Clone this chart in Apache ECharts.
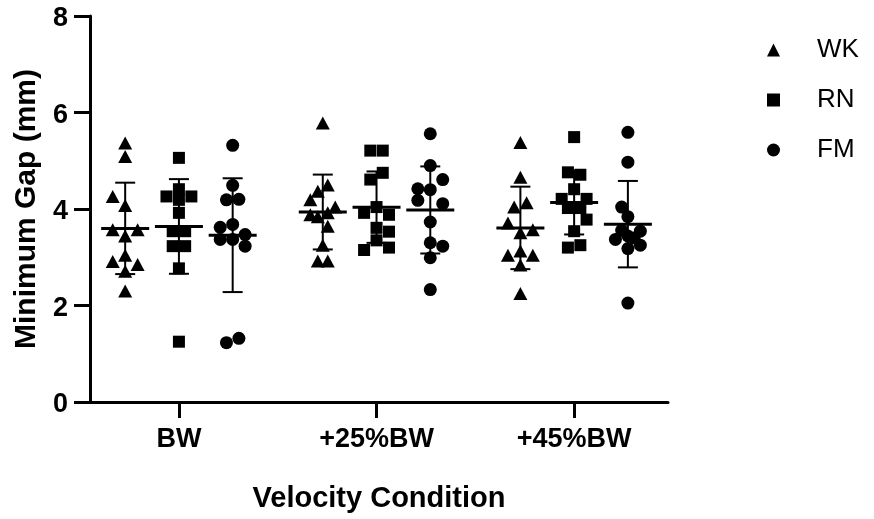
<!DOCTYPE html>
<html>
<head>
<meta charset="utf-8">
<script src="https://cdn.jsdelivr.net/npm/echarts@6/dist/echarts.min.js"></script>
<style>
  html, body { margin: 0; padding: 0; background: #fff; }
  #chart { width: 874px; height: 519px; }
</style>
</head>
<body>
<div id="chart"></div>
<script>
const groups = ['BW', '+25%BW', '+45%BW']
const seriesNames = ['WK', 'RN', 'FM']
const yTicks = [0, 2, 4, 6, 8]

// values per velocity condition, lanes = sideways spread of the dots
const wkValues = [
  [5.37, 5.09, 4.26, 4.07, 3.57, 3.57, 3.44, 3.04, 2.91, 2.85, 2.71, 2.30],
  [5.78, 4.50, 4.37, 4.19, 4.04, 3.88, 3.84, 3.92, 3.64, 3.25, 2.92, 2.92],
  [5.38, 4.66, 4.13, 4.04, 3.71, 3.51, 3.57, 3.13, 3.04, 3.04, 2.84, 2.25]
]
const wkLanes = [
  [0, 0, -1, 0, -1, 1, 0, 0, -1, 1, 0, 0],
  [0, 0.4, -0.4, -1, 1, -1, -0.4, 0.4, 0.4, 0, -0.4, 0.4],
  [0, 0, 0.5, -0.5, -1, 0, 1, 0, -1, 1, 0, 0]
]
const rnValues = [
  [5.06, 4.41, 4.26, 4.26, 4.19, 3.92, 3.54, 3.54, 3.23, 3.23, 2.77, 1.25],
  [5.21, 5.21, 4.75, 4.61, 4.04, 3.92, 3.88, 3.61, 3.53, 3.35, 3.15, 3.20],
  [5.49, 4.76, 4.71, 4.41, 4.21, 4.21, 4.02, 4.02, 3.78, 3.54, 3.25, 3.20]
]
const rnLanes = [
  [0, 0, -1, 1, 0, 0, -0.5, 0.5, -0.5, 0.5, 0, 0],
  [-0.5, 0.5, 0.5, -0.5, 0, -1, 1, 0, 1, 0, -1, 1],
  [0, -0.5, 0.5, 0, -1, 1, -0.5, 0.5, 1, 0, 0.5, -0.5]
]
const fmValues = [
  [5.32, 4.49, 4.19, 4.20, 3.62, 3.68, 3.37, 3.37, 3.47, 3.23, 1.23, 1.32],
  [5.56, 4.90, 4.61, 4.42, 4.40, 4.18, 4.11, 3.73, 3.30, 3.23, 2.99, 2.33],
  [5.59, 4.97, 4.04, 3.84, 3.56, 3.54, 3.37, 3.44, 3.25, 3.18, 3.40, 2.05]
]
const fmLanes = [
  [0, 0, -0.5, 0.5, -1, 0, -1, 0, 1, 1, -0.5, 0.5],
  [0, 0, 1, -1, 0, -1, 1, 0, 0, 1, 0, 0],
  [0, 0, -0.5, 0, -0.5, 1, -1, 0, 1, 0, 0.5, 0]
]

const allValues = [wkValues, rnValues, fmValues]
const allLanes = [wkLanes, rnLanes, fmLanes]
const symbols = ['triangle', 'rect', 'circle']
const symbolSizes = [[14, 13], 12, 13]
const seriesOffset = [-0.272, 0, 0.272]
const laneStep = 0.063
// x axis starts at 0, group centres sit at lead, lead+1, lead+2
const lead = 0.45
const groupPos = groups.map((g, i) => lead + i)
const font = '"Liberation Sans", Arial, sans-serif'

function mean(a){
  return a.reduce((s, v) => s + v, 0) / a.length
}
function sd(a){
  let m = mean(a)
  return Math.sqrt(a.reduce((s, v) => s + (v - m) * (v - m), 0) / (a.length - 1))
}

let series = []
let stats = []
for (var s = 0; s < seriesNames.length; s++) {
  let pts = []
  for (var g = 0; g < groups.length; g++) {
    let vals = allValues[s][g]
    let x0 = groupPos[g] + seriesOffset[s]
    vals.forEach((v, i) => {
      pts.push([x0 + allLanes[s][g][i] * laneStep, v])
    })
    stats.push([x0, mean(vals), sd(vals)])
  }
  series.push({
    name: seriesNames[s],
    type: 'scatter',
    symbol: symbols[s],
    symbolSize: symbolSizes[s],
    itemStyle: { color: '#000', opacity: 1 },
    data: pts,
    z: 2
  })
}

// mean line with SD whiskers
series.push({
  type: 'custom',
  data: stats,
  z: 5,
  silent: true,
  renderItem: function(params, api){
    let x = api.value(0), m = api.value(1), d = api.value(2)
    let c = api.coord([x, m])
    let top = api.coord([x, m + d])
    let bot = api.coord([x, m - d])
    let st = { stroke: '#000', lineWidth: 2 }
    return {
      type: 'group',
      children: [
        { type: 'line', shape: { x1: c[0], y1: top[1], x2: c[0], y2: bot[1] }, style: st },
        { type: 'line', shape: { x1: c[0] - 10, y1: top[1], x2: c[0] + 10, y2: top[1] }, style: st },
        { type: 'line', shape: { x1: c[0] - 10, y1: bot[1], x2: c[0] + 10, y2: bot[1] }, style: st },
        { type: 'line', shape: { x1: c[0] - 24, y1: c[1], x2: c[0] + 24, y2: c[1] }, style: { stroke: '#000', lineWidth: 3 } }
      ]
    }
  }
})

const chart = echarts.init(document.getElementById('chart'))
chart.setOption({
  backgroundColor: '#fff',
  animation: false,
  grid: { left: 90, right: 206, top: 16, bottom: 117 },
  legend: {
    orient: 'vertical',
    left: 767,
    top: 37,
    padding: 0,
    itemGap: 24,
    itemWidth: 13,
    itemHeight: 13,
    data: seriesNames,
    itemStyle: { opacity: 1 },
    textStyle: { fontFamily: font, fontSize: 26, color: '#000', padding: [0, 0, 0, 32] }
  },
  xAxis: {
    type: 'value',
    min: 0,
    max: 2.925,
    name: 'Velocity Condition',
    nameLocation: 'middle',
    nameGap: 82,
    nameTextStyle: { fontFamily: font, fontSize: 29, fontWeight: 'bold', color: '#000' },
    axisLine: { show: true, lineStyle: { color: '#000', width: 3 } },
    axisTick: { show: true, inside: false, length: 16, lineStyle: { color: '#000', width: 3 }, customValues: groupPos },
    axisLabel: {
      customValues: groupPos,
      margin: 24,
      fontFamily: font, fontSize: 27, fontWeight: 'bold', color: '#000',
      formatter: v => groups[Math.round(v - lead)]
    },
    splitLine: { show: false }
  },
  yAxis: {
    type: 'value',
    min: yTicks[0],
    max: yTicks[yTicks.length - 1],
    interval: 2,
    name: 'Minimum Gap (mm)',
    nameLocation: 'middle',
    nameGap: 48,
    nameTextStyle: { fontFamily: font, fontSize: 30, fontWeight: 'bold', color: '#000' },
    axisLine: { show: true, lineStyle: { color: '#000', width: 3 } },
    axisTick: { show: true, inside: false, length: 16, lineStyle: { color: '#000', width: 3 } },
    axisLabel: {
      margin: 22,
      formatter: v => '{v|' + v + '}',
      rich: { v: { fontFamily: font, fontSize: 27, fontWeight: 'bold', color: '#000', padding: [6, 0, 0, 0] } }
    },
    splitLine: { show: false }
  },
  series: series
})
</script>
</body>
</html>
